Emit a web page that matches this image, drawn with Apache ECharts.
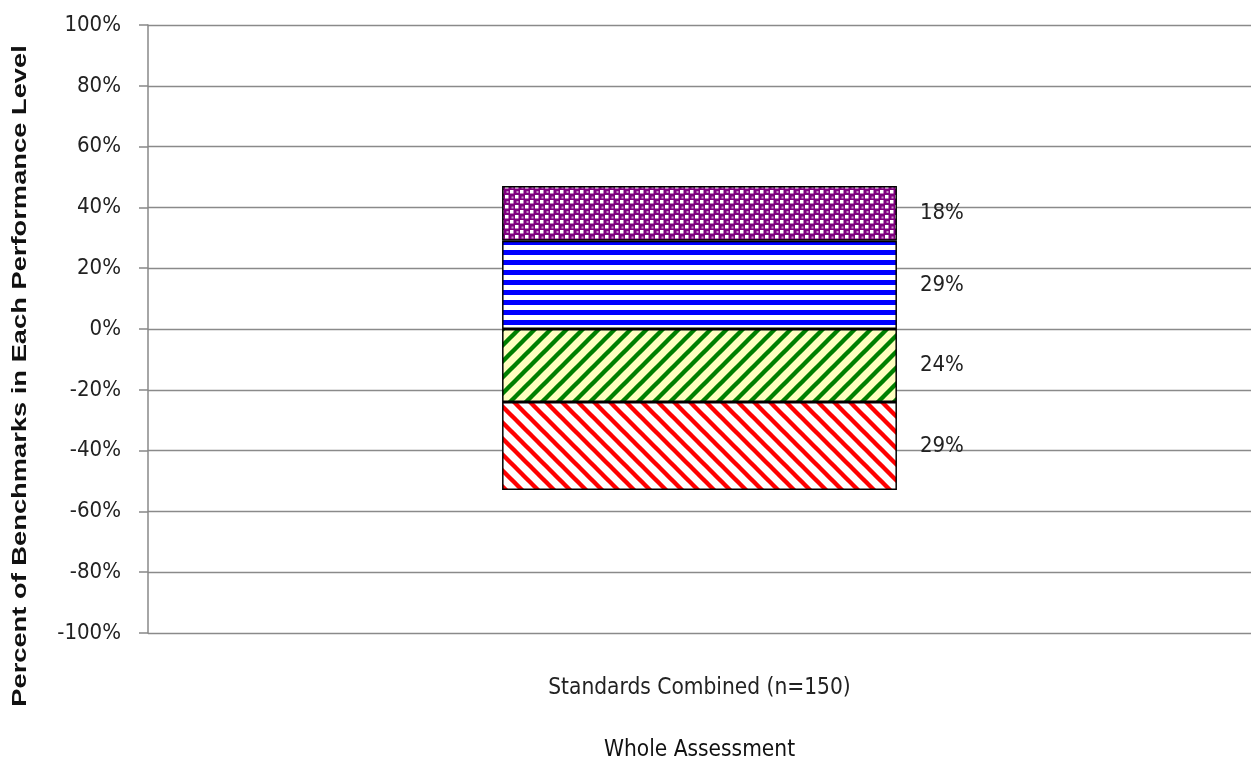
<!DOCTYPE html>
<html><head><meta charset="utf-8">
<script src="https://cdn.jsdelivr.net/npm/echarts@6/dist/echarts.min.js"></script>
<style>html,body{margin:0;padding:0;background:#fff}#c{width:1251px;height:771px}</style>
</head><body><div id="c"></div>
<script>
const categories = ['Standards Combined (n=150)'];
const seriesNames = ['Level 1', 'Level 2', 'Level 3', 'Level 4'];
const level1 = [-29];
const level2 = [-24];
const level3 = [29];
const level4 = [18];
const yTicks = [-100, -80, -60, -40, -20, 0, 20, 40, 60, 80, 100];

const FONT = '"Liberation Sans Narrow", "DejaVu Sans Condensed", "Liberation Sans", sans-serif';

function tile(w, h, draw) {
  const c = document.createElement('canvas'); c.width = w; c.height = h;
  draw(c.getContext('2d'), w, h);
  return { image: c, repeat: 'repeat' };
}
const redPat = tile(16, 16, (g, w, h) => {
  g.fillStyle = '#fff'; g.fillRect(0, 0, w, h);
  g.strokeStyle = '#ff0000'; g.lineWidth = 4.4;
  for (let k = -1; k <= 1; k++) { g.beginPath(); g.moveTo(k * w - w, -h); g.lineTo(k * w + 2 * w, 2 * h); g.stroke(); }
});
const greenPat = tile(16, 16, (g, w, h) => {
  g.fillStyle = '#ffffc0'; g.fillRect(0, 0, w, h);
  g.strokeStyle = '#008000'; g.lineWidth = 4.4;
  for (let k = -1; k <= 1; k++) { g.beginPath(); g.moveTo(k * w - w, 2 * h); g.lineTo(k * w + 2 * w, -h); g.stroke(); }
});
const bluePat = tile(10, 10, (g, w, h) => {
  g.fillStyle = '#fff'; g.fillRect(0, 0, w, h);
  g.fillStyle = '#0000ff'; g.fillRect(0, 0, w, 5);
});
const purplePat = tile(10, 10, (g, w, h) => {
  g.fillStyle = '#800080'; g.fillRect(0, 0, w, h);
  g.fillStyle = '#fff';
  g.fillRect(0, 0, 3.5, 3.5); g.fillRect(5, 5, 3.5, 3.5);
  g.fillStyle = '#c890c8';
  g.fillRect(6.5, 1, 2, 2); g.fillRect(1.5, 6.5, 2, 2);
});

const lbl = {
  show: true, position: 'right', distance: 23,
  fontFamily: FONT, fontSize: 22, color: '#222',
  formatter: p => Math.abs(p.value) + '%'
};
function mk(name, data, pat) {
  return {
    name, type: 'bar', stack: 'total', data, barWidth: '35.8%',
    itemStyle: { color: pat, borderColor: '#000', borderWidth: 1.5 },
    label: lbl
  };
}

const chart = echarts.init(document.getElementById('c'));
chart.setOption({
  animation: false,
  grid: { left: 148, right: 0, top: 25, bottom: 138, containLabel: false },
  xAxis: {
    type: 'category', data: categories,
    axisLine: { show: false, onZero: false },
    axisTick: { show: false },
    axisLabel: { margin: 44, fontFamily: FONT, fontSize: 22.5, color: '#222' },
    name: 'Whole Assessment', nameLocation: 'middle', nameGap: 106,
    nameTextStyle: { fontFamily: FONT, fontSize: 22.5, color: '#111' }
  },
  yAxis: {
    type: 'value', min: -100, max: 100, interval: 20,
    axisLine: { show: true, lineStyle: { color: '#888', width: 1.5 } },
    axisTick: { show: true, inside: false, length: 9, lineStyle: { color: '#888', width: 1.5 } },
    axisLabel: { margin: 27, fontFamily: FONT, fontSize: 22, color: '#222',
      formatter: v => yTicks.includes(v) ? v + '%' : '' },
    splitLine: { show: true, lineStyle: { color: '#8a8a8a', width: 1.3 } }
  },
  graphic: [{
    type: 'text', x: 20, y: 376, rotation: Math.PI / 2, scaleX: 1.3,
    style: { text: 'Percent of Benchmarks in Each Performance Level', fill: '#111',
      font: 'bold 21px "Liberation Sans", Arial, sans-serif', align: 'center', verticalAlign: 'middle' }
  }],
  series: [
    mk(seriesNames[1], level2, greenPat),
    mk(seriesNames[0], level1, redPat),
    mk(seriesNames[2], level3, bluePat),
    mk(seriesNames[3], level4, purplePat)
  ]
});
</script></body></html>
